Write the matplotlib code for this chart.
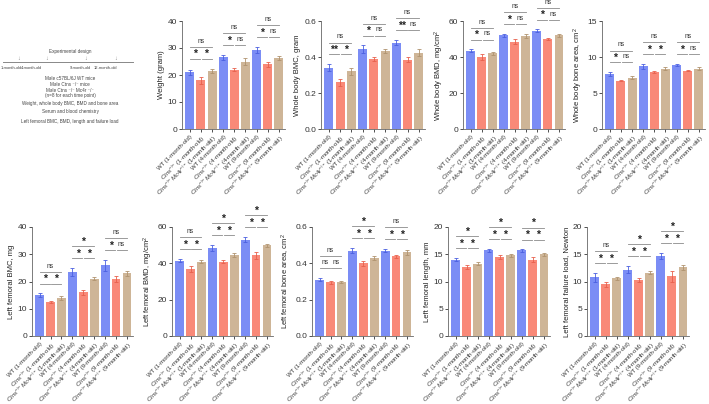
import numpy as np
import matplotlib
matplotlib.use('Agg')
import matplotlib.pyplot as plt
from matplotlib.lines import Line2D

plt.rcParams['font.family'] = ['Liberation Sans', 'DejaVu Sans']
plt.rcParams['mathtext.fontset'] = 'custom'
plt.rcParams['mathtext.rm'] = 'Liberation Sans'
plt.rcParams['mathtext.it'] = 'Liberation Sans:italic'

# bar order: WT, Ctns-/-, Ctns-/-Mc4r-/- for 1, 4 and 9 months
ages = ['1-month-old', '4-month-old', '9-month-old']
genotypes = ['WT', r'$\mathit{Ctns}^{-/-}$', r'$\mathit{Ctns}^{-/-}\mathit{Mc4r}^{-/-}$']

weight = [21.0, 18.0, 21.5, 26.5, 22.0, 25.0, 29.3, 24.0, 26.3]
weight_err = [1.0, 1.2, 0.9, 1.0, 0.7, 1.3, 1.2, 1.0, 0.7]
weight_sig = [('*', '*', 'ns'), ('*', 'ns', 'ns'), ('*', 'ns', 'ns')]

wb_bmc = [0.34, 0.26, 0.32, 0.445, 0.39, 0.435, 0.48, 0.385, 0.425]
wb_bmc_err = [0.02, 0.02, 0.02, 0.02, 0.01, 0.01, 0.015, 0.015, 0.02]
wb_bmc_sig = [('**', '*', 'ns'), ('*', 'ns', 'ns'), ('**', 'ns', 'ns')]

wb_bmd = [43.5, 40.0, 42.0, 52.0, 48.5, 51.5, 54.5, 50.0, 52.0]
wb_bmd_err = [0.8, 1.5, 0.8, 1.0, 1.5, 1.2, 0.8, 0.8, 0.8]
wb_bmd_sig = [('*', 'ns', 'ns'), ('*', 'ns', 'ns'), ('*', 'ns', 'ns')]

wb_area = [7.6, 6.7, 7.1, 8.7, 7.9, 8.4, 8.9, 8.1, 8.4]
wb_area_err = [0.3, 0.1, 0.2, 0.35, 0.1, 0.25, 0.15, 0.1, 0.25]
wb_area_sig = [('*', 'ns', 'ns'), ('*', '*', 'ns'), ('*', 'ns', 'ns')]

lf_bmc = [15.0, 12.5, 14.0, 23.5, 16.0, 21.0, 26.0, 21.0, 23.0]
lf_bmc_err = [0.6, 0.4, 0.8, 1.5, 1.0, 0.6, 2.0, 1.2, 1.0]
lf_bmc_sig = [('*', '*', 'ns'), ('*', '*', '*'), ('*', 'ns', 'ns')]

lf_bmd = [41.5, 37.0, 41.0, 48.5, 41.0, 44.5, 53.0, 44.5, 50.0]
lf_bmd_err = [1.0, 1.8, 0.6, 1.5, 1.0, 1.0, 1.5, 2.0, 0.8]
lf_bmd_sig = [('*', '*', 'ns'), ('*', '*', '*'), ('*', '*', '*')]

lf_area = [0.31, 0.295, 0.295, 0.47, 0.40, 0.43, 0.47, 0.44, 0.46]
lf_area_err = [0.008, 0.008, 0.006, 0.015, 0.012, 0.01, 0.008, 0.008, 0.015]
lf_area_sig = [('ns', 'ns', 'ns'), ('*', '*', '*'), ('*', '*', 'ns')]

lf_length = [14.0, 12.7, 13.3, 15.7, 14.5, 14.8, 15.7, 14.0, 15.0]
lf_length_err = [0.3, 0.4, 0.3, 0.3, 0.4, 0.3, 0.2, 0.5, 0.3]
lf_length_sig = [('*', '*', '*'), ('*', '*', '*'), ('*', '*', '*')]

lf_load = [10.8, 9.5, 10.6, 12.2, 10.3, 11.6, 14.7, 11.0, 12.6]
lf_load_err = [0.8, 0.5, 0.3, 0.6, 0.4, 0.3, 0.5, 1.0, 0.4]
lf_load_sig = [('*', '*', 'ns'), ('*', '*', '*'), ('*', '*', '*')]

colors = ['#7b8df5', '#f98978', '#ceb597']
edge_colors = ['#4a5fe0', '#e8604c', '#b0936f']


def tick_labels() -> list:

    '''
    Build the rotated x tick labels
    Return: a list of str
    '''

    labels = []
    for age in ages:
        for g in genotypes:
            labels.append(f'{g} ({age})')
    return labels


def draw_sig(ax, values, errors, sig, ymax):

    '''
    Draw significance brackets above each group of three bars
    '''

    for gi, (s01, s12, s02) in enumerate(sig):
        x0 = gi * 3
        top = max(v + e for v, e in zip(values[x0:x0 + 3], errors[x0:x0 + 3]))
        y1 = top + 0.09 * ymax
        y2 = y1 + 0.11 * ymax
        kw = dict(color='#8a8a8a', lw=0.6, clip_on=False)
        ax.plot([x0, x0 + 0.92], [y1, y1], **kw)
        ax.plot([x0 + 1.08, x0 + 2], [y1, y1], **kw)
        ax.plot([x0, x0 + 2], [y2, y2], **kw)
        for xm, yl, txt in [(x0 + 0.5, y1, s01), (x0 + 1.5, y1, s12), (x0 + 1, y2, s02)]:
            if txt == 'ns':
                ax.text(xm, yl + 0.02 * ymax, txt, ha='center', va='bottom',
                        fontsize=4.8, color='#333333', clip_on=False)
            else:
                ax.text(xm, yl - 0.005 * ymax, txt, ha='center', va='bottom',
                        fontsize=7.5, fontweight='bold', color='#222222', clip_on=False)


def draw_panel(fig, rect, values, errors, sig, ylabel, ymax, yticks):

    '''
    Draw one bar chart panel
    '''

    ax = fig.add_axes(rect)
    x = np.arange(len(values))
    bar_colors = [colors[i % 3] for i in x]
    err_colors = [edge_colors[i % 3] for i in x]
    ax.bar(x, values, width=0.8, color=bar_colors, zorder=2)
    for xi, v, e, c in zip(x, values, errors, err_colors):
        ax.errorbar(xi, v, yerr=e, color=c, lw=0.6, capsize=1.5, capthick=0.6, zorder=3)

    ax.set_xlim(-0.7, 8.55)
    ax.set_ylim(0, ymax)
    ax.set_yticks(yticks)
    ax.set_xticks(x)
    ax.set_xticklabels(tick_labels(), rotation=45, ha='right', rotation_mode='anchor',
                       fontsize=4.3)
    ax.tick_params(axis='y', labelsize=6, length=2, width=0.6, pad=1.5, colors='#333333')
    ax.tick_params(axis='x', length=2, width=0.6, pad=1.5, colors='#333333')
    ax.set_ylabel(ylabel, fontsize=5.5, labelpad=2, color='#222222')
    for side in ['top', 'right']:
        ax.spines[side].set_visible(False)
    for side in ['left', 'bottom']:
        ax.spines[side].set_linewidth(0.6)
        ax.spines[side].set_color('#666666')

    draw_sig(ax, values, errors, sig, ymax)
    return ax


def draw_design(fig):

    '''
    Draw the experimental design sketch in the top left corner
    '''

    W, H = 709, 404

    def fx(px):
        return px / W

    def fy(py):
        return 1 - py / H

    txt = dict(fontsize=3.3, color='#444444', ha='center', va='center')
    fig.text(fx(70), fy(52), 'Experimental design', **txt)
    fig.add_artist(Line2D([fx(3), fx(133)], [fy(62), fy(62)], color='#888888', lw=0.7))
    for px in [19, 47, 86, 116]:
        fig.text(fx(px), fy(58), '↓', fontsize=4, color='#888888', ha='center', va='center')
    for px, lab in [(11, '1-month-old'), (32, '4-month-old'),
                    (81, '9-month-old'), (105, '12-month-old')]:
        fig.text(fx(px), fy(68), lab, fontsize=2.9, color='#444444',
                 ha='center', va='center')
    lines = [(78, 'Male c57BL/6J WT mice'),
             (84, 'Male Ctns ⁻/⁻ mice'),
             (90, 'Male Ctns ⁻/⁻ Mc4r ⁻/⁻'),
             (95.5, '(n=8 for each time point)'),
             (104, 'Weight, whole body BMC, BMD and bone area'),
             (112, 'Serum and blood chemistry'),
             (121, 'Left femoral BMC, BMD, length and failure load')]
    for py, lab in lines:
        fig.text(fx(70), fy(py), lab, **txt)


def main() -> int:

    '''
    Program to draw the whole figure
    Return: 0 on success
    '''

    W, H = 709, 404
    fig = plt.figure(figsize=(W / 100, H / 100), dpi=100)

    def rect(left, right, top, bottom):
        return [left / W, 1 - bottom / H, (right - left) / W, (bottom - top) / H]

    draw_design(fig)

    top_panels = [
        ((182, 285), weight, weight_err, weight_sig, 'Weight (gram)', 40, [0, 10, 20, 30, 40]),
        ((321, 425), wb_bmc, wb_bmc_err, wb_bmc_sig, 'Whole body BMC, gram', 0.6, [0.0, 0.2, 0.4, 0.6]),
        ((463, 565), wb_bmd, wb_bmd_err, wb_bmd_sig, r'Whole body BMD, mg/cm$^2$', 60, [0, 20, 40, 60]),
        ((602, 705), wb_area, wb_area_err, wb_area_sig, r'Whole body bone area, cm$^2$', 15, [0, 5, 10, 15]),
    ]
    bottom_panels = [
        ((32, 133), lf_bmc, lf_bmc_err, lf_bmc_sig, 'Left femoral BMC, mg', 40, [0, 10, 20, 30, 40]),
        ((172, 273), lf_bmd, lf_bmd_err, lf_bmd_sig, r'Left femoral BMD, mg/cm$^2$', 60, [0, 20, 40, 60]),
        ((312, 413), lf_area, lf_area_err, lf_area_sig, r'Left femoral bone area, cm$^2$', 0.6, [0.0, 0.2, 0.4, 0.6]),
        ((448, 550), lf_length, lf_length_err, lf_length_sig, 'Left femoral length, mm', 20, [0, 5, 10, 15, 20]),
        ((587, 689), lf_load, lf_load_err, lf_load_sig, 'Left femoral failure load, Newton', 20, [0, 5, 10, 15, 20]),
    ]

    for (l, r), vals, errs, sig, lab, ymax, ticks in top_panels:
        draw_panel(fig, rect(l, r, 21, 129), vals, errs, sig, lab, ymax, ticks)
    for (l, r), vals, errs, sig, lab, ymax, ticks in bottom_panels:
        draw_panel(fig, rect(l, r, 227, 336), vals, errs, sig, lab, ymax, ticks)

    fig.savefig('out.png', dpi=100)
    return 0


if __name__ == "__main__":
    main()
